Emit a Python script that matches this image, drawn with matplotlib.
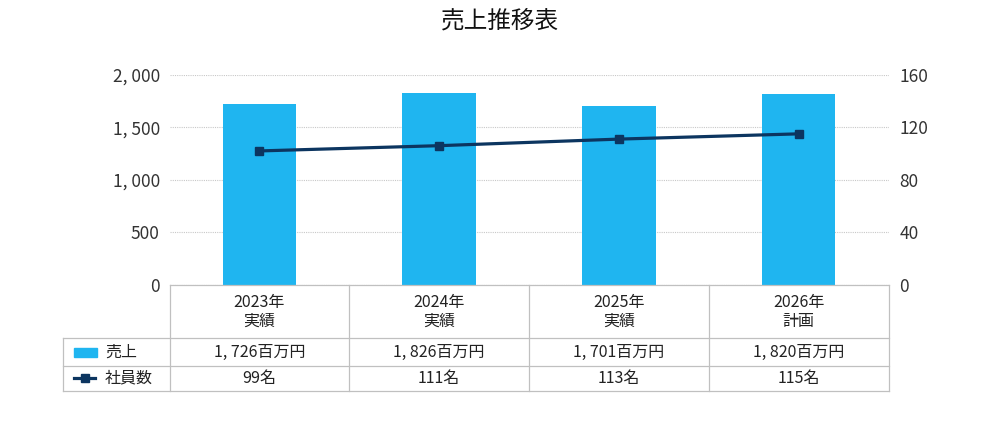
import numpy as np
import matplotlib
matplotlib.use("Agg")
import matplotlib.pyplot as plt
from matplotlib.patches import Rectangle
from matplotlib.lines import Line2D
from matplotlib.ticker import FuncFormatter

plt.rcParams['font.family'] = ['Noto Sans CJK JP', 'DejaVu Sans']

# data
years = ["2023年", "2024年", "2025年", "2026年"]
kinds = ["実績", "実績", "実績", "計画"]
sales = [1726, 1826, 1701, 1820]            # 百万円
staff_plot = [102, 106, 111, 115]           # as drawn on the right axis
staff_label = ["99名", "111名", "113名", "115名"]
sales_name = "売上"
staff_name = "社員数"
title = "売上推移表"

bar_color = "#1fb5f0"
line_color = "#0c3560"
grid_color = "#c8c8c8"
table_color = "#c0c0c0"

W, H = 1000, 432
fig = plt.figure(figsize=(W / 100, H / 100), dpi=100)

# plot area in pixels
px_left, px_right = 169.5, 888.5
px_top, px_bottom = 74.7, 285.0
legend_left = 63.3
table_rows = [285.0, 338.3, 365.7, 391.0]

ax = fig.add_axes([px_left / W, 1 - px_bottom / H,
                   (px_right - px_left) / W, (px_bottom - px_top) / H])
ax2 = ax.twinx()

x = np.arange(len(years))
ax.bar(x, sales, width=0.41, color=bar_color, zorder=2)
ax.set_xlim(-0.5, len(years) - 0.5)
ax.set_ylim(0, 2000)
ax.set_yticks([0, 500, 1000, 1500, 2000])
ax.yaxis.set_major_formatter(FuncFormatter(lambda v, p: f"{v:,.0f}".replace(",", ", ")))
ax.grid(axis="y", color=grid_color, linestyle=(0, (1, 1)), linewidth=0.8, zorder=0)
ax.set_xticks([])
ax.tick_params(axis="y", length=0, pad=7, labelsize=12.5, labelcolor="#333333")

ax2.plot(x, staff_plot, color=line_color, linewidth=2.3, marker="s",
         markersize=6.2, zorder=3)
ax2.set_ylim(0, 160)
ax2.set_yticks([0, 40, 80, 120, 160])
ax2.tick_params(axis="y", length=0, pad=8, labelsize=12.5, labelcolor="#333333")

for a in (ax, ax2):
    for s in a.spines.values():
        s.set_visible(False)

fig.text(0.5, 1 - 21 / H, title, ha="center", va="center", fontsize=17, color="#111111")

# data table below the plot, drawn in pixel units
tab = fig.add_axes([0, 0, 1, 1])
tab.set_xlim(0, W)
tab.set_ylim(H, 0)
tab.axis("off")

n = len(years)
col_w = (px_right - px_left) / n
edges = [px_left + i * col_w for i in range(n + 1)]

def hline(y, x0, x1):
    tab.add_line(Line2D([x0, x1], [y, y], color=table_color, linewidth=0.9))

def vline(xx, y0, y1):
    tab.add_line(Line2D([xx, xx], [y0, y1], color=table_color, linewidth=0.9))

hline(table_rows[0], px_left, px_right)
for yy in table_rows[1:]:
    hline(yy, legend_left, px_right)
vline(legend_left, table_rows[1], table_rows[-1])
for e in edges:
    vline(e, table_rows[0], table_rows[-1])

fs = 11.5
r1 = (table_rows[1] + table_rows[2]) / 2
r2 = (table_rows[2] + table_rows[3]) / 2
for i in range(n):
    cx = (edges[i] + edges[i + 1]) / 2
    tab.text(cx, 302, years[i], ha="center", va="center", fontsize=fs, color="#222222")
    tab.text(cx, 321.5, kinds[i], ha="center", va="center", fontsize=fs, color="#222222")
    tab.text(cx, r1, f"{sales[i]:,}百万円".replace(",", ", "), ha="center", va="center",
             fontsize=fs, color="#222222")
    tab.text(cx, r2, staff_label[i], ha="center", va="center", fontsize=fs, color="#222222")

# legend keys inside the table
tab.add_patch(Rectangle((74, r1 - 4.5), 22.5, 9.5, color=bar_color))
tab.text(105, r1, sales_name, ha="left", va="center", fontsize=fs, color="#222222")
tab.add_line(Line2D([74, 95], [r2, r2], color=line_color, linewidth=2.3))
tab.add_line(Line2D([84.5], [r2], color=line_color, marker="s", markersize=5.5))
tab.text(105, r2, staff_name, ha="left", va="center", fontsize=fs, color="#222222")

fig.savefig("out.png", dpi=100)
